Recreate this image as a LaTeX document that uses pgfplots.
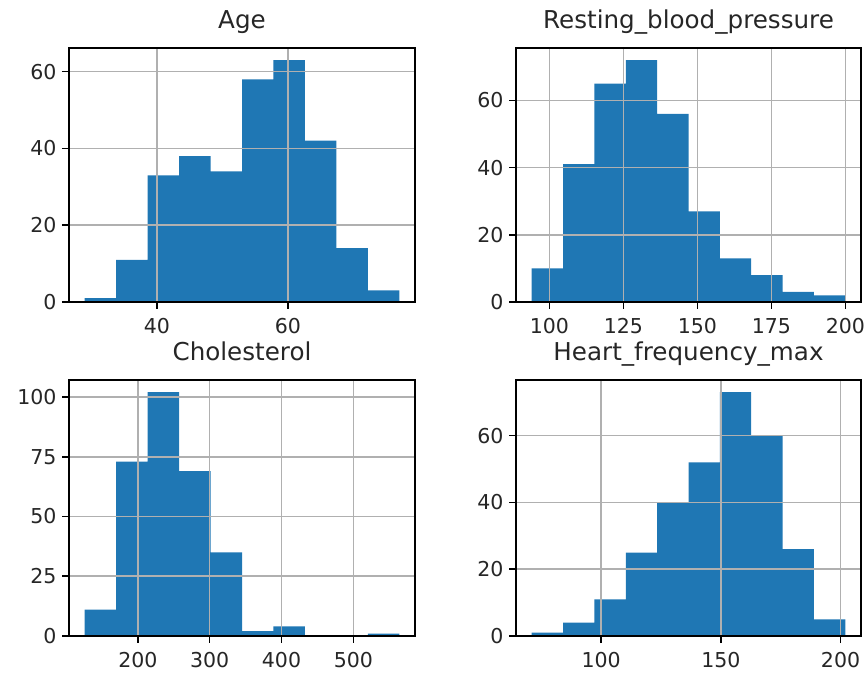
\documentclass[border=0pt]{standalone}
\usepackage{fontspec}
\setmainfont{DejaVu Sans}
\usepackage{pgfplots}
\pgfplotsset{compat=1.18}
\definecolor{mplblue}{HTML}{1F77B4}
\definecolor{gridgray}{HTML}{B0B0B0}

\pgfplotsset{
  histpanel/.style={
    scale only axis, axis on top,
    anchor=south west,
    grid=major, major grid style={gridgray, line width=1.6bp},
    axis line style={black, line width=1.6bp},
    tick align=outside, major tick length=7bp,
    tick style={black, line width=1.6bp},
    xtick pos=left, ytick pos=left,
    minor tick num=0,
    ymin=0, scaled ticks=false,
    ticklabel style={font=\fontsize{20.5bp}{24bp}\selectfont, text=black!85},
    xticklabel style={yshift=-6bp},
    yticklabel style={xshift=-2bp},
    /pgf/number format/assume math mode=true,
    title style={font=\fontsize{24.6bp}{29bp}\selectfont, text=black!85,
      at={(0.5,1)}, anchor=base, yshift=14bp},
  },
  histbar/.style={ybar interval, fill=mplblue, draw=none},
}

\begin{document}
\begin{tikzpicture}
\useasboundingbox (0,0) rectangle (866bp,676bp);

% Age
\begin{axis}[histpanel, at={(69bp,374bp)}, width=346bp, height=254bp,
  title={Age}, xmin=26.6, xmax=79.4, ymax=66.15,
  xtick={40,60}, ytick={0,20,40,60}]
\addplot[histbar] coordinates {(29,1) (33.8,11) (38.6,33) (43.4,38) (48.2,34)
  (53,58) (57.8,63) (62.6,42) (67.4,14) (72.2,3) (77,0)};
\end{axis}

% Resting blood pressure
\begin{axis}[histpanel, at={(516bp,374bp)}, width=345bp, height=254bp,
  title={Resting\_blood\_pressure}, xmin=88.7, xmax=205.3, ymax=75.6,
  xtick={100,125,150,175,200}, ytick={0,20,40,60}]
\addplot[histbar] coordinates {(94,10) (104.6,41) (115.2,65) (125.8,72) (136.4,56)
  (147,27) (157.6,13) (168.2,8) (178.8,3) (189.4,2) (200,0)};
\end{axis}

% Cholesterol
\begin{axis}[histpanel, at={(69bp,40bp)}, width=346bp, height=256bp,
  title={Cholesterol}, xmin=104.1, xmax=585.9, ymax=107.1,
  xtick={200,300,400,500}, ytick={0,25,50,75,100}]
\addplot[histbar] coordinates {(126,11) (169.8,73) (213.6,102) (257.4,69) (301.2,35)
  (345,2) (388.8,4) (432.6,0) (476.4,0) (520.2,1) (564,0)};
\end{axis}

% Heart frequency max
\begin{axis}[histpanel, at={(516bp,40bp)}, width=345bp, height=256bp,
  title={Heart\_frequency\_max}, xmin=64.45, xmax=208.55, ymax=76.65,
  xtick={100,150,200}, ytick={0,20,40,60}]
\addplot[histbar] coordinates {(71,1) (84.1,4) (97.2,11) (110.3,25) (123.4,40)
  (136.5,52) (149.6,73) (162.7,60) (175.8,26) (188.9,5) (202,0)};
\end{axis}
\end{tikzpicture}
\end{document}
